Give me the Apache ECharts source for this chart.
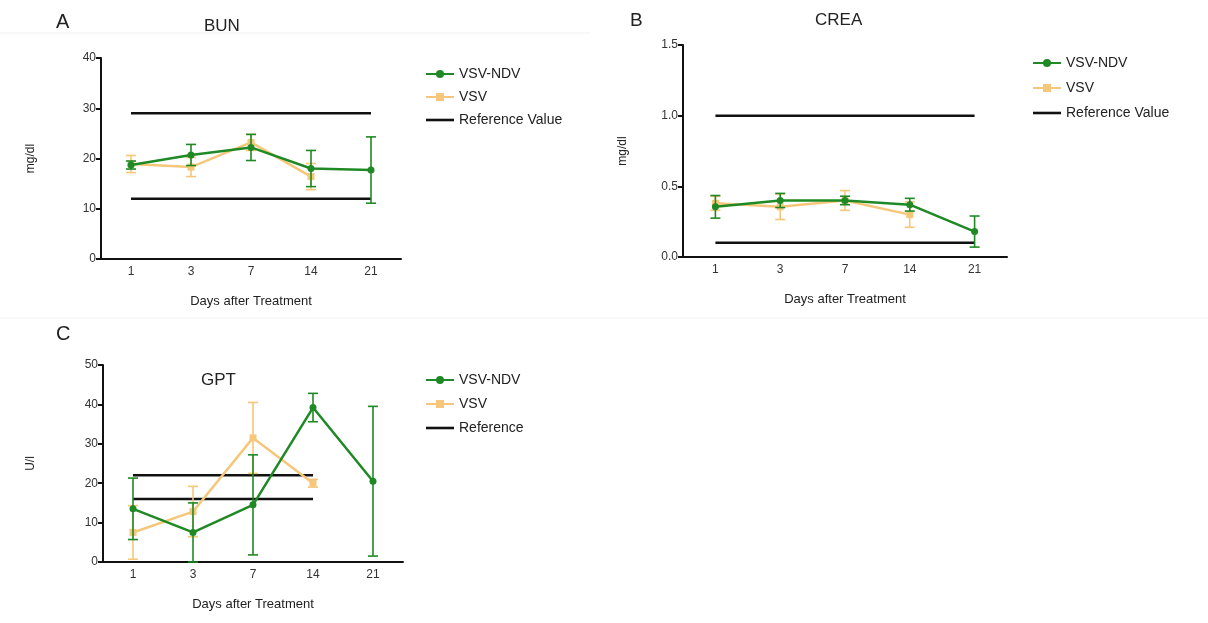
<!DOCTYPE html>
<html>
<head>
<meta charset="utf-8">
<script src="https://cdn.jsdelivr.net/npm/echarts@6/dist/echarts.min.js"></script>
<style>html,body{margin:0;padding:0;background:#fff}#c{width:1208px;height:623px}</style>
</head>
<body>
<div id="c"></div>
<script>
// ---- data ----
const days = ['1', '3', '7', '14', '21'];

const bunNdv = [18.7, 20.7, 22.2, 18.0, 17.7];
const bunNdvErr = [0.8, 2.1, 2.6, 3.6, 6.6];
const bunVsv = [18.9, 18.3, 23.2, 16.4, null];
const bunVsvErr = [1.7, 1.9, 1.6, 2.6, null];
const bunRef = [29, 12];

const creaNdv = [0.355, 0.40, 0.40, 0.37, 0.18];
const creaNdvErr = [0.08, 0.05, 0.03, 0.045, 0.11];
const creaVsv = [0.38, 0.355, 0.40, 0.30, null];
const creaVsvErr = [0.05, 0.09, 0.07, 0.09, null];
const creaRef = [1.0, 0.1];

const gptNdv = [13.5, 7.5, 14.5, 39.2, 20.5];
const gptNdvErr = [7.8, 7.5, 12.7, 3.6, 19.0];
const gptVsv = [7.5, 12.8, 31.5, 20.0, null];
const gptVsvErr = [6.8, 6.4, 9.0, 1.0, null];
const gptRef = [22, 16];
const gptRefDays = 4; // reference lines span days 1..14

// ---- styling ----
const GREEN = '#1f8a25';
const ORANGE = '#f6c77a';
const FONT = 'Liberation Sans, Arial, sans-serif';

function errData(vals, errs) {
  const out = [];
  vals.forEach((v, i) => {
    if (v != null && errs[i] != null) out.push([i, v - errs[i], v + errs[i]]);
  });
  return out;
}

function errSeries(gi, vals, errs, color, z) {
  return {
    type: 'custom',
    xAxisIndex: gi, yAxisIndex: gi,
    z: z,
    silent: true,
    encode: { x: 0, y: [1, 2] },
    data: errData(vals, errs),
    renderItem: function (params, api) {
      const x = api.value(0);
      const top = api.coord([x, api.value(2)]);
      const bot = api.coord([x, api.value(1)]);
      const w = 5;
      const st = { stroke: color, lineWidth: 1.6 };
      return {
        type: 'group',
        children: [
          { type: 'line', shape: { x1: top[0], y1: top[1], x2: bot[0], y2: bot[1] }, style: st },
          { type: 'line', shape: { x1: top[0] - w, y1: top[1], x2: top[0] + w, y2: top[1] }, style: st },
          { type: 'line', shape: { x1: bot[0] - w, y1: bot[1], x2: bot[0] + w, y2: bot[1] }, style: st }
        ]
      };
    }
  };
}

function refSeries(gi, name, val, span) {
  return {
    name: name, type: 'line',
    xAxisIndex: gi, yAxisIndex: gi,
    data: days.map((d, i) => (i < span ? val : null)),
    symbol: 'none',
    lineStyle: { color: '#111', width: 2.5 },
    itemStyle: { color: '#111' },
    z: 1, silent: true
  };
}

function dataSeries(gi, name, vals, color, symbol, z) {
  return {
    name: name, type: 'line',
    xAxisIndex: gi, yAxisIndex: gi,
    data: vals,
    symbol: symbol, symbolSize: 7,
    lineStyle: { color: color, width: 2.5 },
    itemStyle: { color: color },
    z: z, silent: true
  };
}

const grids = [
  { left: 101, top: 58, width: 300, height: 201 },
  { left: 683, top: 45, width: 324, height: 212 },
  { left: 103, top: 365, width: 300, height: 197 }
];

function xAxis(gi) {
  return {
    type: 'category', gridIndex: gi, data: days,
    boundaryGap: true,
    name: 'Days after Treatment', nameLocation: 'middle', nameGap: 36,
    nameTextStyle: { fontFamily: FONT, fontSize: 13, color: '#222' },
    axisLine: { lineStyle: { color: '#111', width: 2 } },
    axisTick: { alignWithLabel: true, length: 5, lineStyle: { color: '#111', width: 2 } },
    axisLabel: { fontFamily: FONT, fontSize: 12, color: '#333', margin: 7 },
    splitLine: { show: false }
  };
}

function yAxis(gi, name, max, interval, gap, fmt) {
  return {
    type: 'value', gridIndex: gi, min: 0, max: max, interval: interval,
    name: name, nameLocation: 'middle', nameGap: gap, nameRotate: 90,
    nameTextStyle: { fontFamily: FONT, fontSize: 12, color: '#222' },
    axisLine: { show: true, lineStyle: { color: '#111', width: 2 } },
    axisTick: { show: true, length: 5, lineStyle: { color: '#111', width: 2 } },
    axisLabel: { fontFamily: FONT, fontSize: 12, color: '#333', margin: 5, formatter: fmt },
    splitLine: { show: false }
  };
}

const REF_ICON = 'path://M0,0 L28,0 L28,2.6 L0,2.6 Z';

function legend(left, top, refName, gap) {
  return {
    left: left, top: top, orient: 'vertical', itemGap: gap,
    itemWidth: 28, itemHeight: 10,
    data: ['VSV-NDV', 'VSV', { name: refName, icon: REF_ICON }],
    textStyle: { fontFamily: FONT, fontSize: 14, color: '#222' },
    selectedMode: false
  };
}

const titleStyle = { fontFamily: FONT, fontWeight: 'normal', color: '#222' };

const option = {
  animation: false,
  backgroundColor: '#fff',
  title: [
    { text: 'A', left: 51, top: 7, textStyle: Object.assign({ fontSize: 20 }, titleStyle) },
    { text: 'BUN', left: 199, top: 13, textStyle: Object.assign({ fontSize: 17 }, titleStyle) },
    { text: 'B', left: 625, top: 6, textStyle: Object.assign({ fontSize: 19 }, titleStyle) },
    { text: 'CREA', left: 810, top: 7, textStyle: Object.assign({ fontSize: 17 }, titleStyle) },
    { text: 'C', left: 51, top: 319, textStyle: Object.assign({ fontSize: 20 }, titleStyle) },
    { text: 'GPT', left: 196, top: 367, textStyle: Object.assign({ fontSize: 17 }, titleStyle) }
  ],
  graphic: [
    { type: 'line', shape: { x1: 0, y1: 33, x2: 590, y2: 33 }, style: { stroke: '#f1f1f1', lineWidth: 1 }, silent: true },
    { type: 'line', shape: { x1: 0, y1: 318, x2: 1208, y2: 318 }, style: { stroke: '#f1f1f1', lineWidth: 1 }, silent: true }
  ],
  legend: [
    legend(420, 62, 'Reference Value', 9),
    legend(1027, 51, 'Reference Value', 11),
    legend(420, 368, 'Reference', 10)
  ],
  grid: grids,
  xAxis: [xAxis(0), xAxis(1), xAxis(2)],
  yAxis: [
    yAxis(0, 'mg/dl', 40, 10, 64),
    yAxis(1, 'mg/dl', 1.5, 0.5, 54, v => v.toFixed(1)),
    yAxis(2, 'U/l', 50, 10, 66)
  ],
  series: [
    // A: BUN
    refSeries(0, 'Reference Value', bunRef[0], days.length),
    refSeries(0, 'Reference Value', bunRef[1], days.length),
    errSeries(0, bunVsv, bunVsvErr, ORANGE, 2),
    dataSeries(0, 'VSV', bunVsv, ORANGE, 'rect', 3),
    errSeries(0, bunNdv, bunNdvErr, GREEN, 4),
    dataSeries(0, 'VSV-NDV', bunNdv, GREEN, 'circle', 5),
    // B: CREA
    refSeries(1, 'Reference Value', creaRef[0], days.length),
    refSeries(1, 'Reference Value', creaRef[1], days.length),
    errSeries(1, creaVsv, creaVsvErr, ORANGE, 2),
    dataSeries(1, 'VSV', creaVsv, ORANGE, 'rect', 3),
    errSeries(1, creaNdv, creaNdvErr, GREEN, 4),
    dataSeries(1, 'VSV-NDV', creaNdv, GREEN, 'circle', 5),
    // C: GPT
    refSeries(2, 'Reference', gptRef[0], gptRefDays),
    refSeries(2, 'Reference', gptRef[1], gptRefDays),
    errSeries(2, gptVsv, gptVsvErr, ORANGE, 2),
    dataSeries(2, 'VSV', gptVsv, ORANGE, 'rect', 3),
    errSeries(2, gptNdv, gptNdvErr, GREEN, 4),
    dataSeries(2, 'VSV-NDV', gptNdv, GREEN, 'circle', 5)
  ]
};

const chart = echarts.init(document.getElementById('c'), null, { renderer: 'canvas' });
chart.setOption(option);
</script>
</body>
</html>
